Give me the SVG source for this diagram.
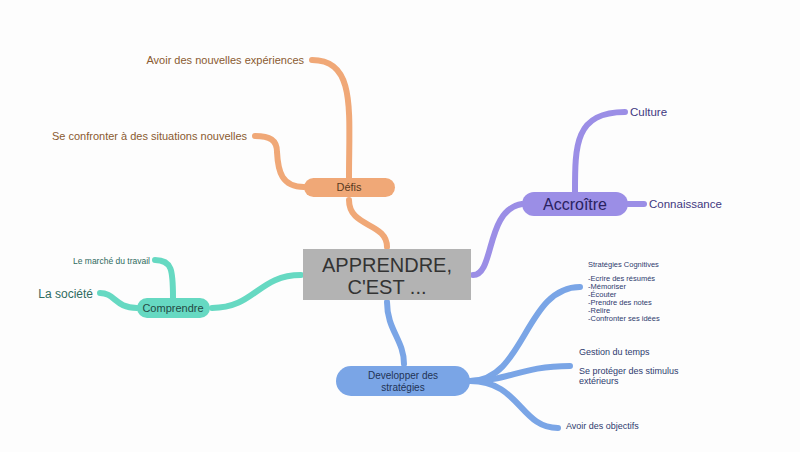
<svg xmlns="http://www.w3.org/2000/svg" width="800" height="452" viewBox="0 0 800 452">
<style>
text{font-family:"Liberation Sans",Arial,sans-serif}
.c{fill:none;stroke-width:6;stroke-linecap:round}
.o{stroke:#f0a877}.p{stroke:#9b8ee6}.t{stroke:#66d9c2}.b{stroke:#7aa5e6}
.lo{fill:#8a5a30;font-size:11px}.lp{fill:#3f3880;font-size:11.5px}.lt{fill:#2f6b60}.lb{fill:#2e3b6e}
</style>
<rect width="800" height="452" fill="#fdfdfd"/>
<g id="connectors">
<path class="c o" d="M387,247 C387,222 349,228 349,200"/>
<path class="c o" d="M349,178 C349,110 356,60 312,60"/>
<path class="c o" d="M304,187 C282,187 278,172 277,152 C277,140 270,136 255,136"/>
<path class="c p" d="M473,275 C495,275 485,210 522,204"/>
<path class="c p" d="M575,192 C575,145 575,112 625,112"/>
<path class="c p" d="M628,204 L644,204"/>
<path class="c t" d="M301,275 C258,275 255,308 212,308"/>
<path class="c t" d="M173,298 C173,270 172,260 155,260"/>
<path class="c t" d="M137,308 C115,308 115,293 100,293"/>
<path class="c b" d="M387,302 C387,330 404,340 404,364"/>
<path class="c b" d="M470,381 C525,381 525,287 580,287"/>
<path class="c b" d="M470,381 C510,381 520,366 570,366"/>
<path class="c b" d="M470,381 C520,381 520,428 558,428"/>
</g>
<g id="center"><rect x="303" y="249" width="168" height="51" fill="#b3b3b3"/>
<text x="387" y="272" text-anchor="middle" font-size="20" fill="#333">APPRENDRE,</text>
<text x="387" y="294" text-anchor="middle" font-size="20" fill="#333">C'EST ...</text></g>
<g id="defis"><rect x="304" y="178" width="91" height="19" rx="9.5" fill="#f0a877"/><text x="349" y="191" text-anchor="middle" font-size="11" fill="#5a3a20">Défis</text></g>
<g id="accroitre"><rect x="522" y="192" width="106" height="24" rx="12" fill="#9b8ee6"/><text x="575" y="210" text-anchor="middle" font-size="16" fill="#2a2260">Accroître</text></g>
<g id="comprendre"><rect x="137" y="298" width="73" height="20" rx="10" fill="#66d9c2"/><text x="173" y="312" text-anchor="middle" font-size="11" fill="#244a44">Comprendre</text></g>
<g id="developper"><rect x="336" y="366" width="134" height="30" rx="15" fill="#7aa5e6"/><text x="403" y="379" text-anchor="middle" font-size="10" fill="#223355">Developper des</text><text x="403" y="391" text-anchor="middle" font-size="10" fill="#223355">stratégies</text></g>
<g id="labels">
<text class="lo" x="304" y="64" text-anchor="end">Avoir des nouvelles expériences</text>
<text class="lo" x="247" y="140" text-anchor="end">Se confronter à des situations nouvelles</text>
<text class="lp" x="630" y="116">Culture</text>
<text class="lp" x="649" y="208">Connaissance</text>
<text class="lt" x="150" y="264" text-anchor="end" font-size="8.5">Le marché du travail</text>
<text class="lt" x="93" y="298" text-anchor="end" font-size="12">La société</text>
<g class="lb" font-size="7.5">
<text x="588" y="267">Stratégies Cognitives</text>
<text x="588" y="281">-Ecrire des résumés</text>
<text x="588" y="289">-Mémoriser</text>
<text x="588" y="297">-Écouter</text>
<text x="588" y="305">-Prendre des notes</text>
<text x="588" y="313">-Relire</text>
<text x="588" y="321">-Confronter ses idées</text>
</g>
<text class="lb" x="579" y="355" font-size="9">Gestion du temps</text>
<text class="lb" x="579" y="374" font-size="9">Se protéger des stimulus</text>
<text class="lb" x="579" y="384" font-size="9">extérieurs</text>
<text class="lb" x="566" y="429" font-size="9">Avoir des objectifs</text>
</g>
</svg>
